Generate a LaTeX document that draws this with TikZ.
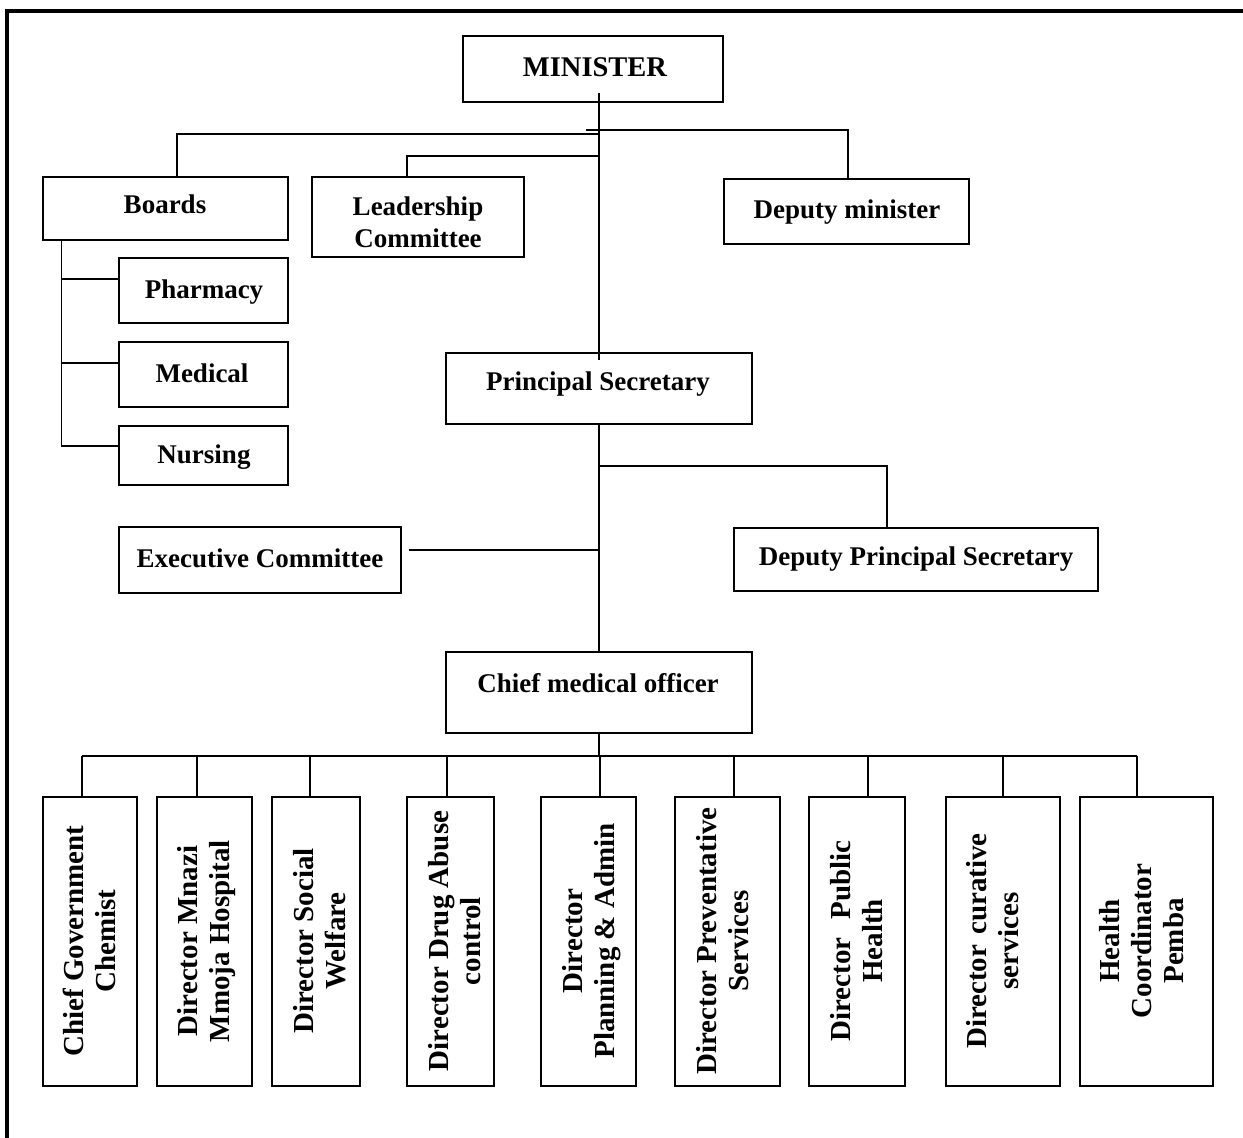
\documentclass[tikz,border=0pt]{standalone}
\usepackage{fontspec}
\setmainfont{Liberation Serif}
\begin{document}
\begin{tikzpicture}[x=1pt,y=-1pt,
  box/.style={draw, line width=1.3pt, rectangle, inner sep=0pt},
  lbl/.style={font=\fontsize{27}{32}\selectfont\bfseries, inner sep=0pt, align=center},
  vlbl/.style={font=\fontsize{29}{32}\selectfont\bfseries, inner sep=0pt, rotate=90, align=center},
  conn/.style={line width=1.3pt},
  frameline/.style={line width=3.2pt}]
\useasboundingbox (0,0) rectangle (1243,1138);
\draw[frameline] (7,1150) -- (7,11) -- (1255,11);

% upper boxes
\node[box, minimum width=260pt, minimum height=66pt] (min) at (593,69) {};
\node[lbl, font=\fontsize{28.5}{34}\selectfont\bfseries, anchor=base] (mint) at (595,76) {MINISTER};

\node[box, minimum width=245pt, minimum height=63pt] (boards) at (165.5,208.5) {};
\node[lbl, anchor=base] (boardst) at (165,213) {Boards};

\node[box, minimum width=212pt, minimum height=80pt] (lead) at (418,217) {};
\node[lbl] (leadt) at (418,222) {Leadership\\Committee};

\node[box, minimum width=245pt, minimum height=65pt] (dm) at (846.5,211.5) {};
\node[lbl, anchor=base] (dmt) at (847,218) {Deputy minister};

\node[box, minimum width=169pt, minimum height=65pt] (pharm) at (203.5,290.5) {};
\node[lbl, anchor=base] (pharmt) at (204,298) {Pharmacy};

\node[box, minimum width=169pt, minimum height=65pt] (med) at (203.5,374.5) {};
\node[lbl, anchor=base] (medt) at (202,382) {Medical};

\node[box, minimum width=169pt, minimum height=59pt] (nurs) at (203.5,455.5) {};
\node[lbl, anchor=base] (nurst) at (204,463) {Nursing};

\node[box, minimum width=306pt, minimum height=71pt] (ps) at (599,388.5) {};
\node[lbl, anchor=base] (pst) at (598,390) {Principal Secretary};

\node[box, minimum width=282pt, minimum height=66pt] (exec) at (260,560) {};
\node[lbl, anchor=base] (exect) at (260,567) {Executive Committee};

\node[box, minimum width=364pt, minimum height=63pt] (dps) at (916,559.5) {};
\node[lbl, anchor=base] (dpst) at (916,565) {Deputy Principal Secretary};

\node[box, minimum width=306pt, minimum height=81pt] (cmo) at (599,692.5) {};
\node[lbl, anchor=base] (cmot) at (598,692) {Chief medical officer};

% bottom boxes
\node[box, minimum width=94pt,  minimum height=289pt] (b1) at (90,941.5) {};
\node[box, minimum width=95pt,  minimum height=289pt] (b2) at (204.5,941.5) {};
\node[box, minimum width=88pt,  minimum height=289pt] (b3) at (316,941.5) {};
\node[box, minimum width=87pt,  minimum height=289pt] (b4) at (450.5,941.5) {};
\node[box, minimum width=95pt,  minimum height=289pt] (b5) at (588.5,941.5) {};
\node[box, minimum width=105pt, minimum height=289pt] (b6) at (727.5,941.5) {};
\node[box, minimum width=96pt,  minimum height=289pt] (b7) at (857,941.5) {};
\node[box, minimum width=114pt, minimum height=289pt] (b8) at (1003,941.5) {};
\node[box, minimum width=133pt, minimum height=289pt] (b9) at (1146.5,941.5) {};

\node[vlbl] (b1t) at (89,941) {Chief Government\\Chemist};
\node[vlbl] (b2t) at (207,941) {Director Mnazi\\Mmoja Hospital};
\node[vlbl] (b3t) at (319.5,941) {Director Social\\Welfare};
\node[vlbl] (b4t) at (455,941) {Director Drug Abuse\\control};
\node[vlbl] (b5t) at (592,941) {Director\\Planning \& Admin};
\node[vlbl] (b6t) at (723,941) {Director Preventative\\Services};
\node[vlbl] (b7t) at (857,941) {Director\hspace{18pt}Public\\Health};
\node[vlbl] (b8t) at (993,941) {Director\hspace{10pt}curative\\services};
\node[vlbl] (b9t) at (1142,941) {Health\\Coordinator\\Pemba};

% connectors: minister level
\coordinate (m0) at (599,93);
\draw[conn] (m0) -- ([yshift=-8pt]ps.north);
\coordinate (jL) at (599,134);
\draw[conn] (jL) -| ([xshift=11.5pt]boards.north);
\coordinate (jR) at (586,130);
\draw[conn] (jR) -| ([xshift=1.5pt]dm.north);
\coordinate (jLd) at (599,156);
\draw[conn] (jLd) -| ([xshift=-11pt]lead.north);

% boards sub-tree
\coordinate (bv) at ([xshift=19pt]boards.south west);
\draw[conn] (bv) |- ([yshift=9.5pt]nurs.west);
\coordinate (pb) at ([yshift=11.5pt]pharm.west);
\draw[conn] (pb) -- (pb -| bv);
\coordinate (mb) at ([yshift=11.5pt]med.west);
\draw[conn] (mb) -- (mb -| bv);

% principal secretary level
\draw[conn] (ps.south) -- (cmo.north);
\coordinate (jD) at (599,466);
\draw[conn] (jD) -| ([xshift=-29pt]dps.north);
\coordinate (ee) at ([xshift=7pt,yshift=10pt]exec.east);
\draw[conn] (ee) -- (ee -| ps.south);

% chief medical officer level
\coordinate (bus) at (599,756);
\draw[conn] (cmo.south) -- (bus);
\foreach \i/\dx in {1/-8,2/-7.5,3/-6,4/-3.5,5/11.5,6/6.5,7/11,8/0,9/-9.5} {
  \coordinate (c\i) at ([xshift=\dx pt]b\i.north);
  \draw[conn] (c\i |- bus) -- (c\i);
}
\draw[conn] (c1 |- bus) -- (c9 |- bus);
\end{tikzpicture}
\end{document}
